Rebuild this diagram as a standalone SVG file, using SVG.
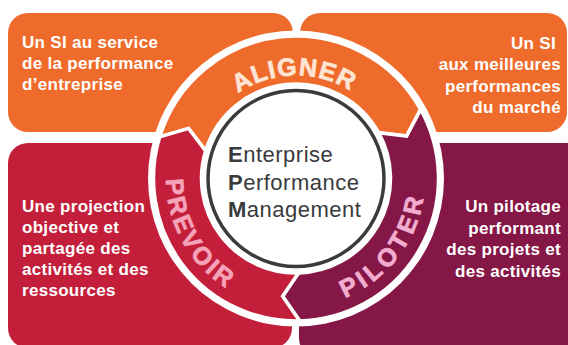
<svg xmlns="http://www.w3.org/2000/svg" width="568" height="345" viewBox="0 0 568 345">
<style>
.box-text{font-family:"Liberation Sans",Arial,sans-serif;font-weight:bold;font-size:17px;letter-spacing:0.3px;fill:#ffffff}
.arc-text{font-family:"Liberation Sans",Arial,sans-serif;font-weight:bold;font-size:25px;stroke-width:0.7px;stroke-linejoin:round}
.band{stroke:#ffffff;stroke-width:3.5;stroke-linejoin:miter}
.center-text{font-family:"Liberation Sans",Arial,sans-serif;font-size:22px;letter-spacing:0.5px;fill:#3a3a3c}
.orange{fill:#EF6B2C}
.red{fill:#C41F3A}
.maroon{fill:#851747}
</style>
<defs>
<path id="p-aligner" d="M198.6,145.0 A103,103 0 0 1 392.2,141.6"/>
<path id="p-prevoir" d="M184.0,112.5 A130,130 0 0 0 294.9,308.5"/>
<path id="p-piloter" d="M279.2,306.4 A129,129 0 0 0 415.2,129.1"/>
</defs>
<rect width="568" height="345" fill="#ffffff"/>

<g id="box-top-left">
<rect class="orange" x="8" y="13" width="285" height="119" rx="20"/>
<text class="box-text" x="22" y="48">Un SI au service</text>
<text class="box-text" x="22" y="69">de la performance</text>
<text class="box-text" x="22" y="90">d’entreprise</text>
</g>
<g id="box-top-right">
<rect class="orange" x="300" y="13" width="267" height="119" rx="20"/>
<text class="box-text" text-anchor="end" x="556" y="48.5">Un SI</text>
<text class="box-text" text-anchor="end" x="561" y="70">aux meilleures</text>
<text class="box-text" text-anchor="end" x="561" y="91.5">performances</text>
<text class="box-text" text-anchor="end" x="561" y="113">du marché</text>
</g>
<g id="box-bottom-left">
<rect class="red" x="8" y="143" width="284" height="205" rx="20"/>
<text class="box-text" x="22" y="212">Une projection</text>
<text class="box-text" x="22" y="233">objective et</text>
<text class="box-text" x="22" y="254">partagée des</text>
<text class="box-text" x="22" y="275">activités et des</text>
<text class="box-text" x="22" y="296">ressources</text>
</g>
<g id="box-bottom-right">
<rect class="maroon" x="299" y="143" width="290" height="215" rx="20"/>
<text class="box-text" text-anchor="end" x="561" y="211.5">Un pilotage</text>
<text class="box-text" text-anchor="end" x="561" y="233.5">performant</text>
<text class="box-text" text-anchor="end" x="561" y="255">des projets et</text>
<text class="box-text" text-anchor="end" x="561" y="277">des activités</text>
</g>

<circle id="ring-white" cx="296" cy="178.5" r="148" fill="#ffffff"/>

<g id="connectors">
<g id="arrow-aligner">
<path class="band orange" d="M159.73,136.84 A142.5,142.5 0 0 1 420.63,109.41 L406.63,136.03 L378.65,132.69 A94.5,94.5 0 0 0 205.63,150.87 L188.60,128.42 Z"/>
<text class="arc-text" fill="#FDE4D3" stroke="#FDE4D3" letter-spacing="1"><textPath href="#p-aligner" startOffset="50%" text-anchor="middle">ALIGNER</textPath></text>
</g>
<g id="arrow-piloter">
<path class="band maroon" d="M420.63,109.41 A142.5,142.5 0 0 1 299.73,320.95 L282.59,296.24 L298.47,272.97 A94.5,94.5 0 0 0 378.65,132.69 L406.63,136.03 Z"/>
<text class="arc-text" fill="#F2ADD0" stroke="#F2ADD0" letter-spacing="4"><textPath href="#p-piloter" startOffset="50%" text-anchor="middle">PILOTER</textPath></text>
</g>
<g id="arrow-prevoir">
<path class="band red" d="M299.73,320.95 A142.5,142.5 0 0 1 159.73,136.84 L188.60,128.42 L205.63,150.87 A94.5,94.5 0 0 0 298.47,272.97 L282.59,296.24 Z"/>
<text class="arc-text" fill="#F5A3B8" stroke="#F5A3B8" letter-spacing="2.8"><textPath href="#p-prevoir" startOffset="50%" text-anchor="middle">PREVOIR</textPath></text>
</g>
</g>

<g id="center">
<circle cx="296" cy="178.5" r="88" fill="#ffffff" stroke="#3b3b3d" stroke-width="3.5"/>
<text class="center-text" x="228" y="162"><tspan font-weight="bold">E</tspan>nterprise</text>
<text class="center-text" x="228" y="189.5"><tspan font-weight="bold">P</tspan>erformance</text>
<text class="center-text" x="228" y="216.5"><tspan font-weight="bold">M</tspan>anagement</text>
</g>
</svg>
